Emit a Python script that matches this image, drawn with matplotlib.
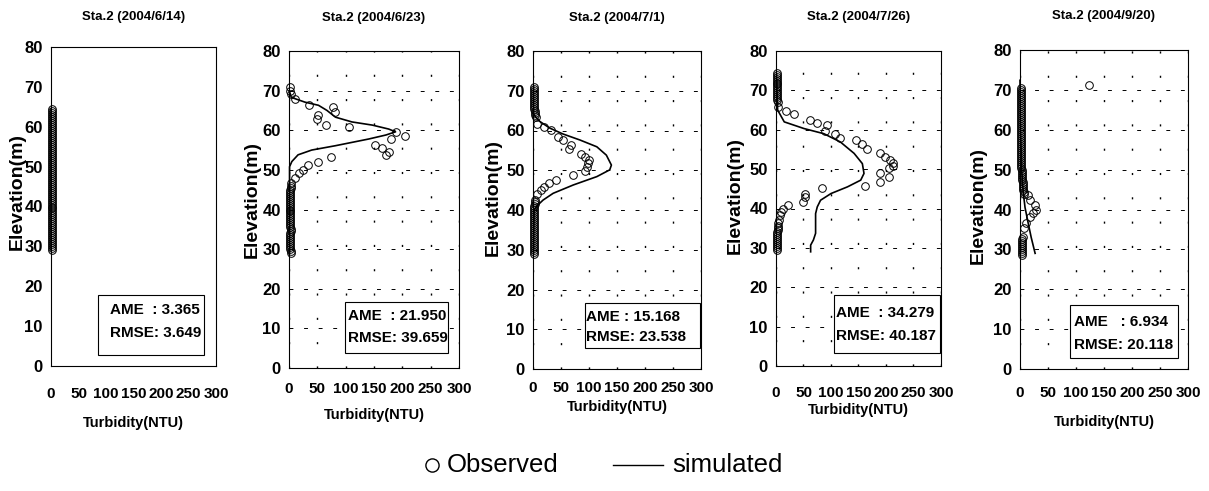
import matplotlib
matplotlib.use("Agg")
import matplotlib.pyplot as plt
from matplotlib.lines import Line2D
from matplotlib.patches import Rectangle

# ---------------- data ----------------
titles = ["Sta.2 (2004/6/14)", "Sta.2 (2004/6/23)", "Sta.2 (2004/7/1)",
          "Sta.2 (2004/7/26)", "Sta.2 (2004/9/20)"]
ame = ["3.365", "21.950", "15.168", "34.279", "6.934"]
rmse = ["3.649", "39.659", "23.538", "40.187", "20.118"]
x_ticks = [0, 50, 100, 150, 200, 250, 300]
y_ticks = [0, 10, 20, 30, 40, 50, 60, 70, 80]

# Panel 1 (2004/6/14)
obs1_elev = [64.5, 64.0, 63.5, 63.0, 62.5, 62.0, 61.5, 61.0, 60.5, 60.0,
             59.5, 59.0, 58.5, 58.0, 57.5, 57.0, 56.5, 56.0, 55.5, 55.0,
             54.5, 54.0, 53.5, 53.0, 52.5, 52.0, 51.5, 51.0, 50.5, 50.0,
             49.5, 49.0, 48.5, 48.0, 47.5, 47.0, 46.5, 46.0, 45.5, 45.0,
             44.5, 44.0, 43.5, 43.0, 42.5, 42.0, 41.5, 41.0, 40.5, 40.0,
             39.5, 39.0, 38.5, 38.0, 37.5, 37.0, 36.5, 36.0, 35.5, 35.0,
             34.5, 34.0, 33.5, 33.0, 32.5, 32.0, 31.5, 31.0, 30.5, 30.0,
             29.5, 29.0]
obs1_turb = [1.0, 1.0, 1.0, 1.0, 1.0, 1.0, 1.0, 1.0, 1.0, 1.0,
             1.0, 1.0, 1.0, 1.0, 1.0, 1.0, 1.0, 1.0, 1.0, 1.0,
             1.0, 1.0, 1.0, 1.0, 1.0, 1.0, 1.0, 1.0, 1.0, 1.0,
             1.0, 1.0, 1.0, 1.0, 1.0, 1.0, 1.0, 1.0, 1.0, 1.0,
             1.0, 1.0, 1.0, 1.0, 1.0, 1.0, 1.0, 1.0, 1.0, 1.0,
             1.0, 1.0, 1.0, 1.0, 1.0, 1.0, 1.0, 1.0, 1.0, 1.0,
             1.0, 1.0, 1.0, 1.0, 1.0, 1.0, 1.0, 1.0, 1.0, 1.0,
             1.0, 2.5]
sim1_elev = [64.5, 29.0]
sim1_turb = [0.5, 0.5]

# Panel 2 (2004/6/23)
obs2_elev = [70.8, 70.0, 69.2, 67.9, 66.4, 65.8, 64.6, 63.8, 62.8, 61.4,
             60.8, 59.6, 58.6, 57.8, 56.4, 55.6, 54.6, 53.8, 53.3, 51.9,
             51.3, 50.0, 49.2, 47.9, 46.7,
             46.0, 45.5, 45.0, 44.5, 44.0, 43.5, 43.0, 42.5, 42.0, 41.5,
             41.0, 40.5, 40.0, 39.5, 39.0, 38.5, 38.0, 37.5, 37.0, 36.5,
             36.0, 35.5, 35.0, 34.5, 34.0, 33.5, 33.0, 32.5, 32.0, 31.5,
             31.0, 30.5, 30.0, 29.5, 29.0]
obs2_turb = [1, 1, 3, 10, 35, 77, 82, 52, 50, 65,
             105, 189, 205, 180, 152, 164, 176, 171, 74, 52,
             34, 25, 17, 10, 4,
             3, 3, 2, 2, 2, 2, 2, 2, 2, 2,
             2, 2, 2, 2, 2, 2, 2, 2, 2, 2,
             2, 2, 3, 3, 2, 2, 2, 2, 2, 2,
             2, 2, 2, 3, 4]
sim2_elev = [70.0, 68.3, 67.1, 66.3, 65.0, 63.3, 62.1, 61.3, 60.3, 59.6,
             58.8, 57.8, 56.1, 55.0, 53.8, 52.1, 50.8, 45.0, 29.0]
sim2_turb = [0.5, 4, 28, 52, 67, 82, 111, 147, 176, 188,
             171, 141, 82, 40, 16, 5, 1, 1, 1]

# Panel 3 (2004/7/1)
obs3_elev = [71.0, 70.5, 70.0, 69.5, 69.0, 68.5, 68.0, 67.5, 67.0, 66.5,
             66.0, 65.5, 65.0, 64.5, 64.0, 63.5,
             61.7, 60.9, 60.2, 58.4, 57.6, 56.3, 55.3, 54.2, 53.4, 52.6,
             51.7, 50.9, 49.7, 48.8, 47.6, 46.8, 45.9, 45.1, 43.9, 42.6,
             42.0, 41.5, 41.0, 40.5, 40.0, 39.5, 39.0, 38.5, 38.0, 37.5,
             37.0, 36.5, 36.0, 35.5, 35.0, 34.5, 34.0, 33.5, 33.0, 32.5,
             32.0, 31.5, 31.0, 30.5, 30.0, 29.5, 29.0]
obs3_turb = [2, 2, 2, 2, 2, 2, 2, 2, 2, 2,
             2, 2, 3, 3, 4, 5,
             8, 20, 32, 44, 53, 68, 65, 86, 92, 100,
             98, 96, 92, 71, 41, 29, 20, 14, 8, 4,
             3, 3, 2, 2, 2, 2, 2, 2, 2, 2,
             2, 2, 2, 2, 2, 2, 1, 1, 2, 2,
             2, 2, 2, 2, 2, 2, 2]
sim3_elev = [71.0, 64.0, 62.3, 60.6, 59.1, 57.6, 55.9, 53.8, 51.3, 50.1,
             48.4, 46.3, 44.2, 42.5, 41.3, 40.0, 29.0]
sim3_turb = [1, 1, 12, 30, 54, 84, 114, 131, 140, 137,
             114, 72, 36, 18, 9, 2, 1]

# Panel 4 (2004/7/26)
obs4_elev = [74.5, 74.0, 73.5, 73.0, 72.5, 72.0, 71.5, 71.0, 70.5, 70.0,
             69.5, 69.0, 68.5, 68.0, 67.5, 67.0,
             65.8, 64.8, 64.0, 62.4, 61.8, 61.2, 59.7, 58.9, 58.0, 57.4,
             56.3, 55.0, 54.1, 53.1, 52.3, 51.5, 50.8, 50.2, 48.9, 48.1,
             46.8, 45.7, 45.1, 43.8, 42.8, 41.7, 40.9, 40.0, 39.2, 38.3,
             37.2, 36.2,
             35.5, 35.0, 34.5, 34.0, 33.5, 33.0, 32.5, 32.0, 31.5, 31.0,
             30.5, 30.0, 29.5]
obs4_turb = [1, 1, 1, 1, 1, 1, 1, 1, 1, 1,
             1, 1, 2, 2, 2, 3,
             4, 18, 32, 62, 75, 92, 89, 108, 116, 145,
             157, 166, 190, 199, 207, 212, 212, 205, 190, 205,
             190, 161, 84, 53, 53, 49, 21, 12, 9, 8,
             6, 4,
             3, 3, 3, 2, 2, 2, 2, 2, 2, 2,
             2, 2, 2]
sim4_elev = [74.0, 65.0, 62.0, 60.3, 59.0, 56.9, 54.0, 51.4, 48.9, 47.2,
             45.5, 43.8, 42.1, 40.4, 38.7, 33.7, 32.0, 30.7, 29.0]
sim4_turb = [1, 3, 15, 51, 87, 117, 142, 157, 160, 154,
             130, 100, 81, 75, 72, 72, 68, 63, 63]

# Panel 5 (2004/9/20)
obs5_elev = [71.2,
             70.5, 70.0, 69.5, 69.0, 68.5, 68.0, 67.5, 67.0, 66.5, 66.0,
             65.5, 65.0, 64.5, 64.0, 63.5, 63.0, 62.5, 62.0, 61.5, 61.0,
             60.5, 60.0, 59.5, 59.0, 58.5, 58.0, 57.5, 57.0, 56.5, 56.0,
             55.5, 55.0, 54.5, 54.0, 53.5, 53.0, 52.5, 52.0, 51.5, 51.0,
             50.5, 50.0,
             49.5, 49.0, 48.5, 48.0, 47.5, 47.0, 46.5, 46.0, 45.5, 45.0,
             44.5, 44.0,
             43.6, 42.4, 41.1, 39.8, 39.0, 38.2, 36.5, 35.3, 33.2,
             32.5, 32.0, 31.5, 31.0, 30.5, 30.0, 29.5, 29.0, 28.5]
obs5_turb = [123,
             1, 1, 1, 1, 1, 1, 1, 1, 1, 1,
             1, 1, 1, 1, 1, 1, 1, 1, 1, 1,
             2, 2, 2, 2, 2, 2, 2, 2, 2, 2,
             2, 2, 2, 2, 2, 2, 2, 2, 2, 2,
             2, 3,
             3, 3, 4, 4, 4, 5, 5, 5, 6, 6,
             7, 8,
             14, 17, 26, 29, 23, 17, 11, 8, 5,
             4, 4, 4, 3, 3, 3, 3, 3, 3]
sim5_elev = [72.4, 60.0, 50.0, 44.0, 40.5, 37.0, 33.0, 29.0]
sim5_turb = [0, 1, 3, 6, 9, 14, 20, 27]

obs_turb = [obs1_turb, obs2_turb, obs3_turb, obs4_turb, obs5_turb]
obs_elev = [obs1_elev, obs2_elev, obs3_elev, obs4_elev, obs5_elev]
sim_turb = [sim1_turb, sim2_turb, sim3_turb, sim4_turb, sim5_turb]
sim_elev = [sim1_elev, sim2_elev, sim3_elev, sim4_elev, sim5_elev]

# ---------------- layout (pixels) ----------------
W, H = 1209, 491
axes_px = [(51, 216, 47, 366), (289, 459, 51, 368), (533, 701, 51, 369),
           (776, 941, 51, 366), (1020, 1188, 50, 369)]
title_y = [17, 18, 18, 17, 16]
xtick_pad = [15.0, 10.0, 8.7, 14.4, 12.3]
xlabel_y = [423, 415, 407, 410, 422]
ylabel_xy = [(17, 192), (252, 200), (493, 197), (735, 195), (978, 205)]
box_px = [(98, 204, 295, 355), (345, 448, 302, 353), (585, 700, 303, 348),
          (834, 940, 295, 353), (1070, 1178, 305, 358)]
box_text = [(110, 310, 333), (348, 316, 338), (586, 317, 337),
            (836, 313, 336), (1074, 322, 345)]
ame_fmt = ["AME  : {}", "AME  : {}", "AME : {}", "AME  : {}", "AME   : {}"]

FONT = ["Liberation Sans", "DejaVu Sans"]

fig = plt.figure(figsize=(W / 100, H / 100), dpi=100)

for i in range(5):
    l, r, t, b = axes_px[i]
    fx = lambda px, l=l, r=r: (px - l) / (r - l)
    fy = lambda py, t=t, b=b: (b - py) / (b - t)
    ax = fig.add_axes([l / W, 1 - b / H, (r - l) / W, (b - t) / H])
    ax.set_xlim(0, 300)
    ax.set_ylim(0, 80)
    ax.set_xticks(x_ticks)
    ax.set_yticks(y_ticks)
    ax.tick_params(length=0)
    ax.tick_params(axis="x", pad=xtick_pad[i], labelsize=11)
    ax.tick_params(axis="y", pad=6, labelsize=12)
    for lab in ax.get_xticklabels() + ax.get_yticklabels():
        lab.set_family(FONT)
        lab.set_fontweight("bold")
    for s in ax.spines.values():
        s.set_linewidth(0.8)
        s.set_color("black")
    if i > 0:
        ax.grid(axis="x", linestyle=(0, (1.5, 16)), linewidth=1.0, color="black")
        ax.grid(axis="y", linestyle=(0, (4, 11)), linewidth=0.7, color="black")
    ax.set_axisbelow(True)

    ax.plot(sim_turb[i], sim_elev[i], color="black", lw=1.2, clip_on=False, zorder=3)
    ax.plot(obs_turb[i], obs_elev[i], linestyle="none", marker="o", ms=5.5,
            mfc="none", mec="black", mew=0.7, clip_on=False, zorder=4)

    # stats box
    bl, br, bt, bb = box_px[i]
    ax.add_patch(Rectangle((fx(bl), fy(bb)), fx(br) - fx(bl), fy(bt) - fy(bb),
                           transform=ax.transAxes, fill=True, fc="white",
                           ec="black", lw=0.8, zorder=5))
    tx, ty1, ty2 = box_text[i]
    ax.text(fx(tx), fy(ty1), ame_fmt[i].format(ame[i]), transform=ax.transAxes,
            ha="left", va="center", fontsize=11, fontweight="bold",
            family=FONT, zorder=6)
    ax.text(fx(tx), fy(ty2), "RMSE: {}".format(rmse[i]), transform=ax.transAxes,
            ha="left", va="center", fontsize=11, fontweight="bold",
            family=FONT, zorder=6)

    # labels
    ax.set_title(titles[i], fontsize=9.5, fontweight="bold", family=FONT,
                 y=fy(title_y[i]), pad=0, va="center")
    ax.set_xlabel("Turbidity(NTU)", fontsize=10.5, fontweight="bold", family=FONT)
    ax.xaxis.set_label_coords(0.5, fy(xlabel_y[i]))
    ax.xaxis.label.set_va("center")
    ax.set_ylabel("Elevation(m)", fontsize=14, fontweight="bold", family=FONT)
    yx, yy = ylabel_xy[i]
    ax.yaxis.set_label_coords(fx(yx), fy(yy))
    ax.yaxis.label.set_va("center")

# legend drawn at the bottom
ly = 1 - 465 / H
fig.add_artist(Line2D([432 / W], [ly], marker="o", ms=9.5, mfc="none",
                      mec="black", mew=1.0, transform=fig.transFigure))
fig.add_artist(Line2D([613 / W, 663 / W], [ly, ly], color="black", lw=1.0,
                      transform=fig.transFigure))
fig.text(447 / W, ly, "Observed", fontsize=18.5, ha="left", va="center", family=FONT)
fig.text(672 / W, ly, "simulated", fontsize=18.5, ha="left", va="center", family=FONT)

fig.savefig("out.png", dpi=100)
